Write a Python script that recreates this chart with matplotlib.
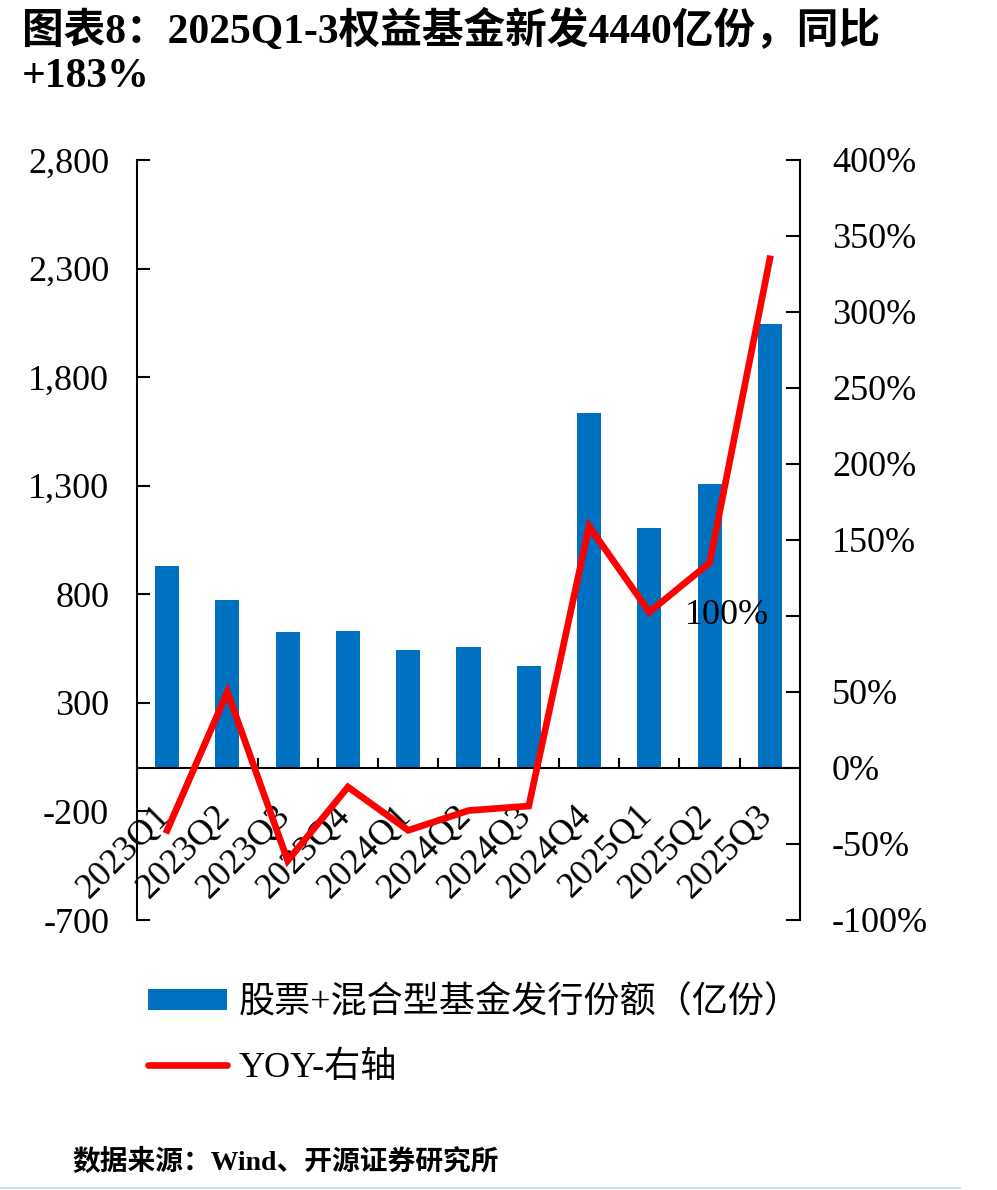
import numpy as np
import matplotlib
matplotlib.use("Agg")
import matplotlib.pyplot as plt
from matplotlib.ticker import FixedLocator, FuncFormatter
from matplotlib.lines import Line2D
from matplotlib.transforms import ScaledTranslation

plt.rcParams["font.family"] = ["Liberation Serif", "Noto Sans CJK SC"]

quarters = ["2023Q1", "2023Q2", "2023Q3", "2023Q4", "2024Q1", "2024Q2",
            "2024Q3", "2024Q4", "2025Q1", "2025Q2", "2025Q3"]
issuance = [932, 774, 625, 631, 543, 555, 469, 1636, 1105, 1307, 2045]
yoy = [-41, 50, -61, -12.5, -41, -28, -25, 159, 102.6, 135, 335]

bar_label = "股票+混合型基金发行份额（亿份）"
line_label = "YOY-右轴"
title = "图表8：2025Q1-3权益基金新发4440亿份，同比\n+183%"
source = "数据来源：Wind、开源证券研究所"

BLUE = "#0070C0"
RED = "#FF0000"

fig = plt.figure(figsize=(9.97, 11.9), dpi=100)
ax = fig.add_axes([137 / 997, 1 - 920 / 1190, 663 / 997, 760 / 1190])
ax2 = ax.twinx()

x = np.arange(len(quarters))
bars = ax.bar(x, issuance, width=0.4, color=BLUE, zorder=2)
line, = ax2.plot(x, yoy, color=RED, lw=4.8, solid_joinstyle="miter", zorder=3)

ax.set_xlim(-0.5, len(quarters) - 0.5)
ax.set_ylim(-700, 2800)
ax2.set_ylim(-100, 400)

ax.set_yticks(np.arange(-700, 2801, 500))
ax.yaxis.set_major_formatter(FuncFormatter(lambda v, p: f"{int(v):,}"))
ax2.set_yticks(np.arange(-100, 401, 50))
ax2.yaxis.set_major_formatter(FuncFormatter(lambda v, p: "" if v == 100 else f"{int(v)}%"))

ax.spines["bottom"].set_position(("data", 0))
for a in (ax, ax2):
    a.spines["top"].set_visible(False)
ax2.spines["bottom"].set_visible(False)
ax2.spines["left"].set_visible(False)
ax.spines["right"].set_visible(False)
for s in ("left", "bottom"):
    ax.spines[s].set_linewidth(1.5)
ax2.spines["right"].set_linewidth(1.5)

ax.tick_params(axis="y", direction="in", length=9, width=1.5, labelsize=26, pad=20)
ax2.tick_params(axis="y", direction="in", length=10, width=1.5, labelsize=26, pad=23)

# category boundaries as ticks, labels at centres
ax.xaxis.set_major_locator(FixedLocator(np.arange(0.5, len(quarters) - 0.5, 1)))
ax.xaxis.set_minor_locator(FixedLocator(x))
ax.tick_params(axis="x", which="major", direction="in", length=7, width=1.5,
               labelbottom=False)
ax.tick_params(axis="x", which="minor", length=0, pad=22, labelsize=26,
               labelrotation=45)
ax.set_xticklabels(quarters, minor=True)
shift = ScaledTranslation(9 / 100, 0, fig.dpi_scale_trans)
for lbl in ax.get_xticklabels(minor=True):
    lbl.set_ha("right")
    lbl.set_zorder(5)
    lbl.set_transform(lbl.get_transform() + shift)

ax2.text((727 - 137) / 663, 100, "100%", transform=ax2.get_yaxis_transform(),
         ha="center", va="center", fontsize=26, zorder=4)

fig.text(22 / 997, 1 - 10 / 1190, title, ha="left", va="top", fontsize=30,
         fontweight="bold", linespacing=1.2)

handles = [bars, Line2D([0], [0], color=RED, lw=4.8, solid_capstyle="round")]
fig.legend(handles, [bar_label, line_label], loc="upper left",
           bbox_to_anchor=(148 / 997, 1 - 986 / 1190), frameon=False,
           fontsize=26, handlelength=2.2, handleheight=0.5, handletextpad=0.3,
           labelspacing=0.85, borderpad=0, borderaxespad=0)

fig.text(72 / 997, 1 - 1162 / 1190, source, ha="left", va="center",
         fontsize=20, fontweight="bold")
fig.add_artist(Line2D([0, 960 / 997], [1 - 1188 / 1190] * 2, color="#cfe0ee", lw=1.5))

fig.savefig("out.png", dpi=100)
